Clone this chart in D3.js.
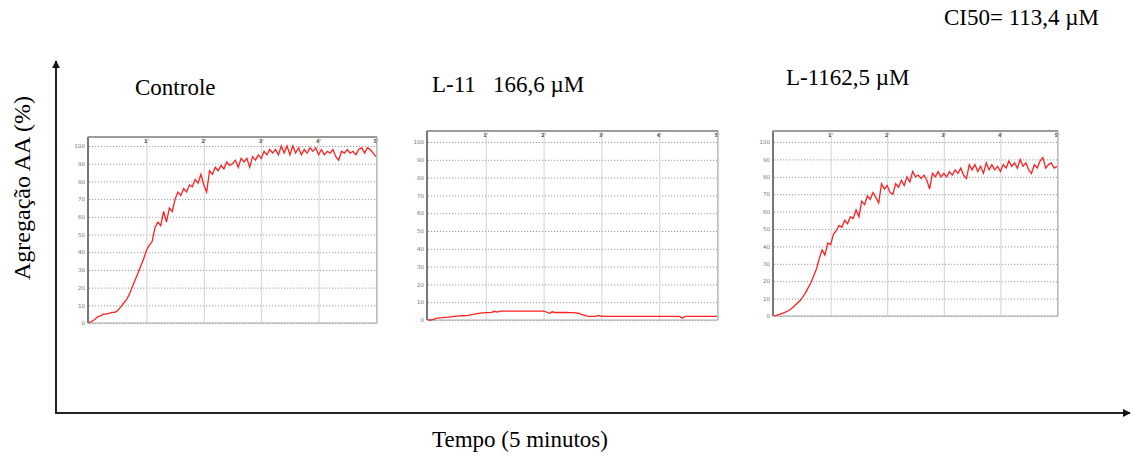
<!DOCTYPE html>
<html>
<head>
<meta charset="utf-8">
<script src="https://cdn.jsdelivr.net/npm/d3@7"></script>
<style>
  body { margin: 0; background: #fff; }
  svg { display: block; }
  text { font-family: "Liberation Serif", "Times New Roman", serif; white-space: pre; }
</style>
</head>
<body>
<svg></svg>
<script>
const width = 1135;
const height = 459;

// tempo de amostragem (minutos), passo de 0.05
const sampleStep = 0.05;

// Controle
const controle = [
    0, 1, 2, 3.5, 4, 5, 5, 5.5, 6, 6,
    7, 9, 11, 13, 16, 20, 24, 28, 32, 36,
    41, 44, 46, 54, 57, 55, 63, 57, 65, 63,
    70, 74, 72, 76, 74, 78, 77, 81, 79, 84,
    78, 74, 86, 84, 88, 86, 89, 87, 91, 89,
    90, 92, 88, 93, 91, 93, 88, 94, 92, 95,
    93, 97, 95, 98, 96, 98, 95, 100, 96, 100,
    95, 100, 96, 99, 95, 98, 96, 99, 97, 99,
    95, 98, 95, 97, 96, 98, 94, 92, 97, 96,
    98, 96, 97, 95, 98, 99, 96, 99, 98, 96,
    94
];

// L-11 166,6 uM
const l11Alta = [
    0, 0, 0.3, 1, 1.2, 1.3, 1.5, 1.6, 1.8, 2,
    2.2, 2.3, 2.4, 2.5, 2.6, 3, 3.3, 3.6, 3.9, 4,
    4.1, 4.2, 4.3, 4.9, 4.4, 5, 5, 5, 5, 5,
    5, 5, 5, 5, 5, 5, 5, 5, 5, 5,
    5, 4.5, 3.8, 4.6, 4.2, 4.2, 4.2, 4.2, 4.2, 4.1,
    4.1, 4, 3.8, 3.2, 2.8, 2.2, 2, 2, 2, 2.6,
    2.1, 2, 2, 2, 2, 2, 2, 2, 2, 2,
    2, 2, 2, 2, 2, 2, 2, 2, 2, 2,
    2, 2, 2, 2, 2, 2, 2, 2, 1, 2,
    2, 2, 2, 2, 2, 2, 2, 2, 2, 2,
    2
];

// L-11 62,5 uM
const l11Baixa = [
    0, 0.5, 1, 1.5, 2.2, 3, 4, 5.5, 7, 8.5,
    10.5, 13, 16, 19, 23, 27, 33, 38, 35, 42,
    41, 47, 49, 52, 51, 55, 53, 57, 56, 61,
    57, 66, 64, 69, 67, 71, 68, 65, 76, 73,
    75, 71, 70, 76, 74, 78, 75, 80, 77, 83,
    80, 81, 79, 81, 78, 73, 82, 80, 83, 80,
    82, 80, 83, 81, 84, 82, 85, 81, 79, 87,
    84, 87, 83, 86, 82, 88, 84, 87, 84, 86,
    83, 87, 85, 89, 86, 88, 85, 90, 86, 88,
    84, 82, 87, 85, 89, 91, 85, 87, 88, 85,
    86
];

const seriesList = [controle, l11Alta, l11Baixa];
const panelTitles = ["Controle", "L-11   166,6 \u00b5M", "L-1162,5 \u00b5M"];
const yTicks = [0, 10, 20, 30, 40, 50, 60, 70, 80, 90, 100];
const minuteTicks = [1, 2, 3, 4, 5];
const minuteLabels = ["1'", "2'", "3'", "4'", "5'"];

// posição de cada painel na imagem
const panels = [
    { x0: 89, x5: 376, y0: 323, y100: 146, top: 137, tx: 135, ty: 95 },
    { x0: 428, x5: 717, y0: 320, y100: 142, top: 131, tx: 432, ty: 92 },
    { x0: 774, x5: 1057, y0: 316, y100: 142, top: 131, tx: 786, ty: 85 }
];

let svg = d3.select("svg")
    .attr("width", width)
    .attr("height", height);

// eixos principais com setas
svg.append("defs").append("marker")
    .attr("id", "arrow")
    .attr("viewBox", "0 0 10 10")
    .attr("refX", 9)
    .attr("refY", 5)
    .attr("markerWidth", 4)
    .attr("markerHeight", 4)
    .attr("orient", "auto")
    .append("path")
    .attr("d", "M0,0 L10,5 L0,10 z")
    .attr("fill", "#111");

svg.append("line")
    .attr("x1", 56).attr("y1", 413)
    .attr("x2", 56).attr("y2", 61)
    .attr("stroke", "#222").attr("stroke-width", 2)
    .attr("marker-end", "url(#arrow)");
svg.append("line")
    .attr("x1", 55).attr("y1", 413)
    .attr("x2", 1130).attr("y2", 413)
    .attr("stroke", "#222").attr("stroke-width", 2)
    .attr("marker-end", "url(#arrow)");

svg.append("text")
    .attr("transform", "translate(30, 188) rotate(-90)")
    .attr("text-anchor", "middle")
    .style("font-size", "24px")
    .text("Agregação AA (%)");

svg.append("text")
    .attr("x", 520).attr("y", 447)
    .attr("text-anchor", "middle")
    .style("font-size", "23px")
    .text("Tempo (5 minutos)");

svg.append("text")
    .attr("x", 944).attr("y", 25)
    .style("font-size", "23px")
    .text("CI50= 113,4 \u00b5M");

panels.forEach((p, i) => drawPanel(p, seriesList[i], panelTitles[i]));

function drawPanel(p, values, title) {
    const scX = d3.scaleLinear().domain([0, 5]).range([p.x0, p.x5]);
    const scY = d3.scaleLinear().domain([0, 100]).range([p.y0, p.y100]);
    const g = svg.append("g");

    svg.append("text")
        .attr("x", p.tx).attr("y", p.ty)
        .style("font-size", "23px")
        .text(title);

    // linhas horizontais pontilhadas + rótulos
    const ay = g.append("g")
        .attr("transform", `translate(${p.x0}, 0)`)
        .call(d3.axisLeft(scY).tickValues(yTicks).tickSize(-(p.x5 - p.x0)).tickPadding(4));
    ay.select(".domain").remove();
    ay.selectAll("line")
        .attr("stroke", "#9a9a9a")
        .attr("stroke-dasharray", "1.2,1.8");
    ay.selectAll("text")
        .style("font-family", "DejaVu Sans, sans-serif")
        .style("font-size", "5.5px")
        .attr("fill", "#777");

    // linhas verticais (minutos)
    const ax = g.append("g")
        .attr("transform", `translate(0, ${p.top})`)
        .call(d3.axisBottom(scX).tickValues(minuteTicks).tickSize(p.y0 - p.top).tickFormat(""));
    ax.select(".domain").remove();
    ax.selectAll("line").attr("stroke", "#d2d2d2");

    // rótulos dos minutos
    g.selectAll(".min")
        .data(minuteTicks)
        .enter()
        .append("text")
        .attr("x", d => scX(d))
        .attr("y", p.top + 6)
        .attr("text-anchor", "middle")
        .style("font-family", "DejaVu Sans, sans-serif")
        .style("font-size", "5px")
        .style("font-weight", "bold")
        .attr("fill", "#555")
        .text((d, i) => minuteLabels[i]);

    // moldura
    g.append("rect")
        .attr("x", p.x0 - 1).attr("y", p.top)
        .attr("width", p.x5 - p.x0 + 2).attr("height", p.y0 - p.top)
        .attr("fill", "none")
        .attr("stroke", "#a8a8a8");
    g.append("line")
        .attr("x1", p.x0 - 1).attr("y1", p.top)
        .attr("x2", p.x0 - 1).attr("y2", p.y0)
        .attr("stroke", "#777").attr("stroke-width", 2);
    g.append("line")
        .attr("x1", p.x0 - 1).attr("y1", p.top)
        .attr("x2", p.x5 + 1).attr("y2", p.top)
        .attr("stroke", "#888").attr("stroke-width", 1.5);

    // curva
    const line = d3.line()
        .x((d, i) => scX(i * sampleStep))
        .y(d => scY(d));
    g.append("path")
        .datum(values)
        .attr("d", line)
        .attr("fill", "none")
        .attr("stroke", "#ff2020")
        .attr("stroke-width", 1.3);
}
</script>
</body>
</html>
